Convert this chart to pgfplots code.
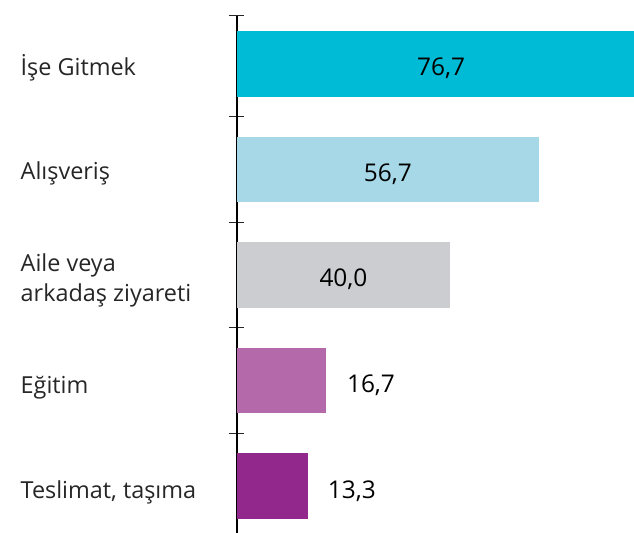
\documentclass[border=0pt]{standalone}
\usepackage{pgfplots}
\pgfplotsset{compat=1.18}
\usepackage{fontspec}
\setmainfont{Open Sans}
\definecolor{c1}{RGB}{0,187,213}
\definecolor{c2}{RGB}{166,216,232}
\definecolor{c3}{RGB}{204,205,208}
\definecolor{c4}{RGB}{180,106,170}
\definecolor{c5}{RGB}{146,40,140}
\newcommand{\catfont}{\fontsize{23.5}{30}\selectfont\color{black!85}}
\newcommand{\valfont}{\fontsize{24.5}{28}\selectfont}
\begin{document}
\begin{tikzpicture}
\begin{axis}[
  name=ax,
  scale only axis, width=397bp, height=517.3bp,
  xmin=0, xmax=74.6,
  ymin=-0.456, ymax=4.445, y dir=reverse,
  axis x line=none, axis y line*=left,
  axis line style={black, line width=1.2bp, -},
  ytick={-0.456,0.5,1.5,2.5,3.5}, yticklabels={},
  major tick length=15bp,
  tick style={black!85, line width=1.3bp},
  xbar, bar width=0.623, bar shift=0pt,
  clip mode=individual,
  tick align=center,
]
\addplot[fill=c1, draw=none] coordinates {(76.7,0)};
\addplot[fill=c2, draw=none] coordinates {(56.7,1)};
\addplot[fill=c3, draw=none] coordinates {(40.0,2)};
\addplot[fill=c4, draw=none] coordinates {(16.7,3)};
\addplot[fill=c5, draw=none] coordinates {(13.3,4)};
% category labels
\node[anchor=base west, inner sep=0, font=\catfont, xshift=-216.5bp, yshift=-12bp] at (axis cs:0,0) {İşe Gitmek};
\node[anchor=base west, inner sep=0, font=\catfont, xshift=-216.5bp, yshift=-10bp] at (axis cs:0,1) {Alışveriş};
\node[anchor=base west, inner sep=0, font=\catfont, xshift=-216.5bp, yshift=-26.5bp, align=left] at (axis cs:0,2) {Aile veya\\arkadaş ziyareti};
\node[anchor=base west, inner sep=0, font=\catfont, xshift=-216.5bp, yshift=-13bp] at (axis cs:0,3) {Eğitim};
\node[anchor=base west, inner sep=0, font=\catfont, xshift=-216.5bp, yshift=-12bp] at (axis cs:0,4) {Teslimat, taşıma};
% value labels
\node[anchor=base, inner sep=0, font=\valfont, yshift=-12bp] at (axis cs:38.35,0) {76,7};
\node[anchor=base, inner sep=0, font=\valfont, yshift=-12bp] at (axis cs:28.35,1) {56,7};
\node[anchor=base, inner sep=0, font=\valfont, yshift=-12bp] at (axis cs:20.0,2) {40,0};
\node[anchor=base west, inner sep=0, font=\valfont, xshift=21bp, yshift=-12bp] at (axis cs:16.7,3) {16,7};
\node[anchor=base west, inner sep=0, font=\valfont, xshift=20bp, yshift=-12bp] at (axis cs:13.3,4) {13,3};
\end{axis}
\pgfresetboundingbox
\useasboundingbox ([xshift=-237bp]ax.south west) rectangle ([yshift=15.7bp]ax.north east);
\end{tikzpicture}
\end{document}
